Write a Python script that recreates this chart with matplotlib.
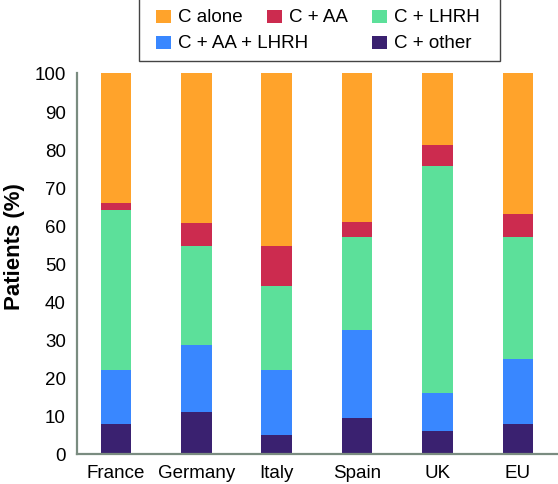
import matplotlib
matplotlib.use('Agg')
import numpy as np
from matplotlib import pyplot as plt
from matplotlib.patches import Rectangle

plt.rcParams['font.family'] = ['Liberation Sans', 'DejaVu Sans']

# 数据：每个国家各治疗方案的患者比例(%)
countries = ['France', 'Germany', 'Italy', 'Spain', 'UK', 'EU']
c_other = [8, 11, 5, 9.5, 6, 8]
c_aa_lhrh = [14, 17.5, 17, 23, 10, 17]
c_lhrh = [42, 26, 22, 24.5, 59.5, 32]
c_aa = [2, 6, 10.5, 4, 5.5, 6]
c_alone = [34, 39.5, 45.5, 39, 19, 37]

series = [
    ('C + other', c_other, '#3a2170'),
    ('C + AA + LHRH', c_aa_lhrh, '#3987ff'),
    ('C + LHRH', c_lhrh, '#5ce09a'),
    ('C + AA', c_aa, '#cc2b4f'),
    ('C alone', c_alone, '#ffa32b'),
]
colors = {name: col for name, _, col in series}

W, H = 558, 485
fig = plt.figure(figsize=(W / 100, H / 100), dpi=100)
ax = fig.add_axes([77 / W, 30 / H, 481 / W, 381 / H])

x = np.arange(len(countries))
bottom = np.zeros(len(countries))
for name, vals, col in series:
    ax.bar(x, vals, width=0.38, bottom=bottom, color=col, label=name)
    bottom += np.array(vals)

ax.set_xlim(-0.485, 5.5)
ax.set_ylim(0, 100)
ax.set_yticks(range(0, 101, 10))
ax.set_xticks(x)
ax.set_xticklabels(countries)
ax.tick_params(axis='both', length=0, labelsize=13.5)
ax.tick_params(axis='y', pad=8)
ax.tick_params(axis='x', pad=7)
for side in ['top', 'right']:
    ax.spines[side].set_visible(False)
for side in ['left', 'bottom']:
    ax.spines[side].set_color('#7a8c80')
    ax.spines[side].set_linewidth(1.6)

ax.set_ylabel('Patients (%)', fontsize=16, fontweight='bold')
ax.yaxis.set_label_coords(-0.108, 0.546)

# 手动绘制图例（第二行中间列为空）
fig.add_artist(Rectangle((139 / W, 1 - 62 / H), (500 - 139) / W, 70 / H,
                         transform=fig.transFigure, facecolor='white',
                         edgecolor='#444444', linewidth=1.0))
legend_items = [
    ('C alone', 156, 17), ('C + AA', 267, 17), ('C + LHRH', 372, 17),
    ('C + AA + LHRH', 156, 43), ('C + other', 372, 43),
]
for name, px, py in legend_items:
    fig.add_artist(Rectangle((px / W, 1 - (py + 6.5) / H), 15 / W, 13 / H,
                             transform=fig.transFigure, facecolor=colors[name],
                             edgecolor='none'))
    fig.text((px + 22) / W, 1 - py / H, name, fontsize=13.5, va='center', ha='left')

fig.savefig('out.png', dpi=100)
